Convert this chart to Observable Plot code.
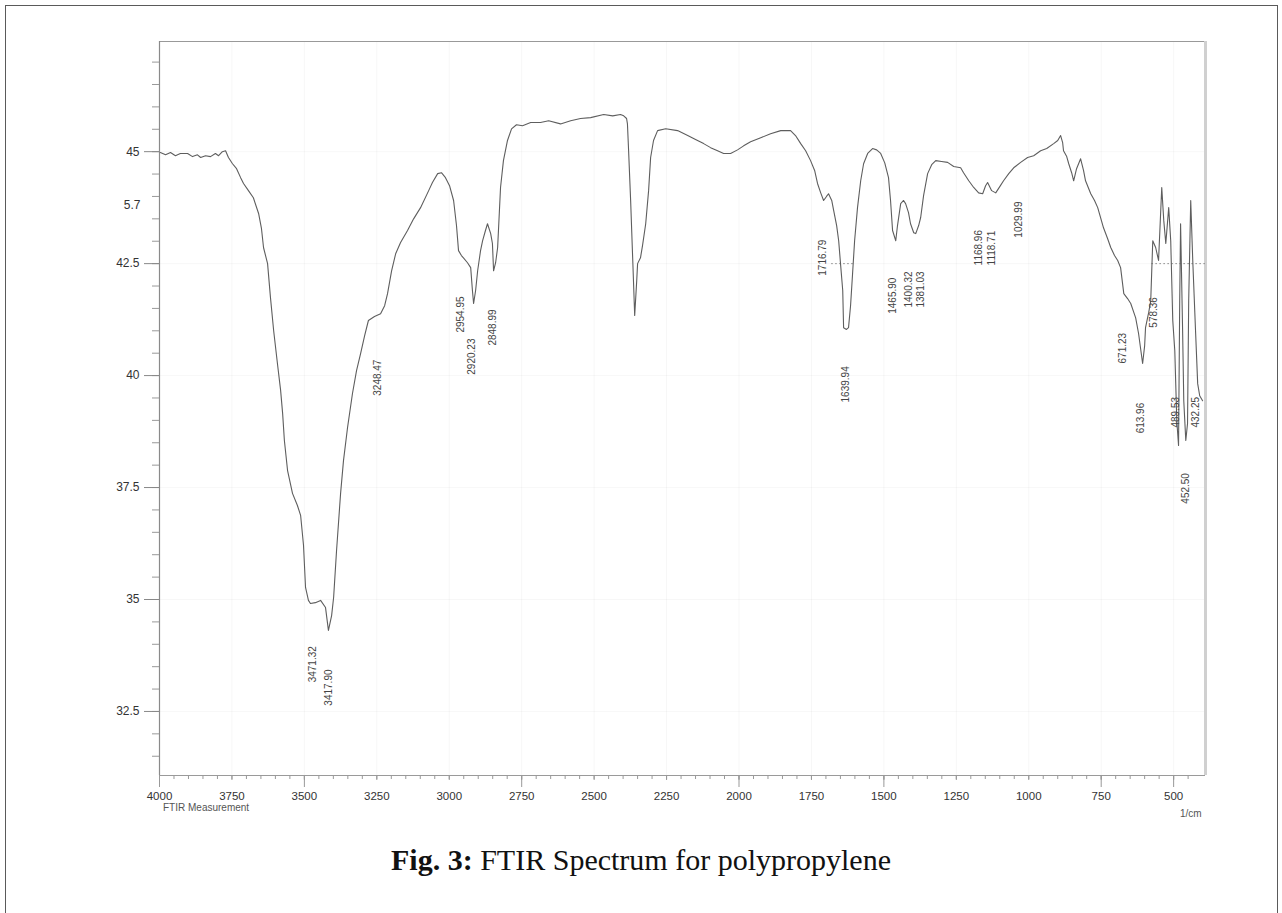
<!DOCTYPE html>
<html>
<head>
<meta charset="utf-8">
<script src="https://cdn.jsdelivr.net/npm/d3@7"></script>
<script src="https://cdn.jsdelivr.net/npm/@observablehq/plot@0.6"></script>
<style>
  html, body { margin: 0; padding: 0; background: #fff; }
  body { width: 1282px; height: 913px; position: relative; overflow: hidden; }
  #chart { position: absolute; left: 0; top: 0; }
  #border { position: absolute; left: 5px; top: 5px; width: 1273px; height: 1000px;
            border: 1.5px solid #5a5a5a; border-bottom: none; box-sizing: border-box; pointer-events: none; }
  .small { position: absolute; font-family: "Liberation Sans", Arial, sans-serif; font-size: 10px; color: #555; white-space: nowrap; }
  #meas { left: 163px; top: 802px; }
  #unit { left: 1180px; top: 808px; }
  #caption { position: absolute; left: 0; width: 1282px; top: 845px; text-align: center;
             font-family: "Liberation Serif", "Times New Roman", serif; font-size: 30px; line-height: 30px; color: #111; }
</style>
</head>
<body>
<div id="chart"></div>
<div id="meas" class="small">FTIR Measurement</div>
<div id="unit" class="small">1/cm</div>
<div id="caption"><b>Fig. 3:</b> FTIR Spectrum for polypropylene</div>
<div id="border"></div>
<script>
// Wavenumber (1/cm)
const wavenumber = [
  3997,3979,3962,3945,3928,3903,3886,3869,3858,3841,
  3824,3807,3796,3783,3772,3762,3748,3734,3720,3710,
  3693,3676,3658,3648,3641,3627,3617,3606,3593,3582,
  3575,3569,3558,3541,3524,3513,3503,3496,3486,3479,
  3462,3444,3427,3417,3406,3399,3389,3375,3365,3351,
  3334,3320,3306,3292,3279,3258,3237,3223,3213,3199,
  3185,3168,3144,3123,3099,3071,3058,3040,3027,3013,
  2999,2985,2975,2968,2958,2951,2937,2926,2920,2916,
  2909,2902,2892,2885,2875,2868,2857,2851,2847,2840,
  2833,2823,2813,2799,2785,2768,2747,2719,2685,2657,
  2616,2581,2547,2512,2467,2436,2409,2398,2388,2385,
  2381,2374,2367,2360,2353,2350,2340,2333,2322,2312,
  2305,2295,2281,2253,2212,2177,2150,2122,2098,2074,
  2053,2029,2005,1984,1960,1925,1891,1856,1822,1805,
  1787,1770,1753,1739,1729,1718,1708,1698,1691,1680,
  1673,1663,1656,1649,1642,1639,1629,1622,1615,1608,
  1601,1591,1580,1570,1556,1539,1525,1511,1497,1484,
  1477,1470,1459,1453,1442,1432,1425,1415,1408,1397,
  1390,1380,1373,1363,1349,1335,1321,1301,1280,1259,
  1235,1225,1207,1190,1173,1159,1149,1142,1128,1114,
  1100,1087,1069,1052,1028,1004,983,959,938,914,
  900,890,883,880,869,862,852,845,835,821,
  811,804,786,773,762,742,728,717,704,693,
  683,672,659,648,631,621,607,600,597,586,
  579,572,562,552,541,534,527,517,510,503,
  496,489,483,479,476,469,465,458,452,448,
  441,434,424,417,410,400
];
// Transmittance
const transmittance = [
  44.98,44.93,44.98,44.91,44.96,44.96,44.89,44.93,44.87,44.91,
  44.89,44.96,44.91,45.00,45.02,44.87,44.73,44.62,44.42,44.29,
  44.13,43.97,43.62,43.28,42.86,42.50,41.74,41.00,40.27,39.67,
  39.15,38.55,37.88,37.37,37.10,36.88,36.21,35.27,34.98,34.91,
  34.93,34.98,34.82,34.31,34.64,35.05,36.09,37.37,38.10,38.84,
  39.60,40.11,40.49,40.89,41.23,41.32,41.38,41.56,41.83,42.34,
  42.72,42.97,43.24,43.50,43.75,44.13,44.31,44.51,44.53,44.42,
  44.24,43.91,43.35,42.79,42.68,42.63,42.52,42.41,41.90,41.61,
  41.90,42.34,42.79,43.01,43.24,43.39,43.17,42.95,42.34,42.52,
  42.86,44.20,44.80,45.25,45.51,45.60,45.58,45.65,45.65,45.69,
  45.62,45.69,45.74,45.76,45.83,45.80,45.83,45.80,45.74,45.62,
  45.02,43.91,42.63,41.34,42.12,42.50,42.63,42.90,43.39,44.13,
  44.87,45.25,45.47,45.51,45.47,45.36,45.27,45.18,45.09,45.02,
  44.96,44.96,45.04,45.13,45.22,45.31,45.40,45.47,45.47,45.36,
  45.18,45.02,44.80,44.58,44.29,44.08,43.91,44.00,44.06,43.91,
  43.68,43.35,43.01,42.45,41.90,41.07,41.03,41.07,41.56,42.28,
  43.01,43.75,44.35,44.73,44.96,45.07,45.04,44.96,44.75,44.42,
  43.91,43.24,43.01,43.35,43.84,43.91,43.84,43.64,43.39,43.19,
  43.17,43.35,43.53,44.02,44.51,44.71,44.80,44.78,44.76,44.67,
  44.64,44.53,44.35,44.20,44.08,44.06,44.24,44.31,44.13,44.08,
  44.22,44.35,44.51,44.64,44.76,44.87,44.91,45.02,45.07,45.18,
  45.25,45.36,45.20,45.02,44.89,44.73,44.53,44.35,44.62,44.84,
  44.58,44.35,44.06,43.91,43.75,43.30,43.06,42.86,42.68,42.57,
  42.41,41.83,41.72,41.61,41.29,40.94,40.27,40.67,41.07,41.41,
  41.67,43.01,42.86,42.57,44.20,43.46,42.95,43.75,43.01,41.23,
  40.56,38.98,38.44,41.67,43.39,41.00,39.44,38.55,38.93,41.67,
  43.91,42.57,40.94,39.82,39.55,39.44
];

// Peak annotations (text, position on the wavenumber axis, transmittance at the label's lower end)
const peakText = ["3471.32","3417.90","3248.47","2954.95","2920.23","2848.99","1716.79","1639.94","1465.90","1400.32","1381.03","1168.96","1118.71","1029.99","671.23","578.36","613.96","489.53","432.25","452.50"];
const peakPos  = [3472,3417,3247,2961,2922,2850,1711,1632,1470,1415,1373,1173,1128,1035,676,569,614,493,424,459];
const peakBase = [33.15,32.63,39.55,40.96,40.02,40.67,42.23,39.40,41.38,41.52,41.52,42.46,42.46,43.08,40.27,41.07,38.71,38.84,38.84,37.14];

// Threshold dotted segments
const thresholdFrom = [1680, 575];
const thresholdTo   = [1600, 390];
const thresholdLevel = 42.5;

// Axis ticks
const xLabelTicks = [4000,3750,3500,3250,3000,2750,2500,2250,2000,1750,1500,1250,1000,750,500];
const xLongTicks  = [4000,3500,2750,2000,1500,750,500];
const yLabelTicks = [45,42.5,40,37.5,35,32.5];
const yLabelText  = ["45","42.5","40","37.5","35","32.5"];
const yExtraTick  = [43.8];
const yExtraText  = ["5.7"];

const xDomain = [4000, 390];
const yDomain = [31.07, 47.46];

const spectrum = wavenumber.map((w, i) => ({w, t: transmittance[i]}));
const peaks = peakText.map((label, i) => ({label, w: peakPos[i], t: peakBase[i]}));
const thresholds = thresholdFrom.map((a, i) => ({x1: a, x2: thresholdTo[i], y: thresholdLevel}));
const yLabelMap = new Map(yLabelTicks.map((v, i) => [v, yLabelText[i]]));
const yExtraMap = new Map(yExtraTick.map((v, i) => [v, yExtraText[i]]));

const xMinor = d3.range(450, 4000, 50);
const yMinor = d3.range(31.5, 47.01, 0.5);

const chart = Plot.plot({
  width: 1282,
  height: 830,
  marginLeft: 159,
  marginRight: 77,
  marginTop: 41,
  marginBottom: 55,
  x: {domain: xDomain, label: null},
  y: {domain: yDomain, label: null},
  style: {fontFamily: "'Liberation Sans', Arial, sans-serif", fontSize: "11.5px", background: "transparent", color: "#333", overflow: "visible"},
  marks: [
    Plot.gridX(xLabelTicks, {stroke: "#000", strokeOpacity: 0.035}),
    Plot.gridY(yLabelTicks, {stroke: "#000", strokeOpacity: 0.03}),
    Plot.ruleY([yDomain[1]], {stroke: "#999", strokeWidth: 1.2}),
    Plot.ruleX([xDomain[1]], {stroke: "#d0d0d0", strokeWidth: 3}),
    Plot.ruleX([xDomain[0]], {stroke: "#8a8a8a", strokeWidth: 1.2}),
    Plot.ruleY([yDomain[0]], {stroke: "#9a9a9a", strokeWidth: 1.2}),
    Plot.ruleY(thresholds, {y: "y", x1: "x1", x2: "x2", stroke: "#888", strokeDasharray: "1.5,2.5", strokeWidth: 1}),
    Plot.axisX(xMinor, {tickSize: 4, stroke: "#999", tickFormat: () => ""}),
    Plot.axisX(xLongTicks, {tickSize: 12, stroke: "#999", tickFormat: () => ""}),
    Plot.axisX(xLabelTicks, {tickSize: 5, tickPadding: 11, stroke: "#999", fill: "#333", fontSize: 11.5, tickFormat: d => String(d)}),
    Plot.axisY(yMinor, {tickSize: 7, stroke: "#999", tickFormat: () => ""}),
    Plot.axisY(yLabelTicks, {tickSize: 15, tickPadding: 5, stroke: "#888", fill: "#333", fontSize: 12, tickFormat: d => yLabelMap.get(d)}),
    Plot.axisY(yExtraTick, {tickSize: 0, tickPadding: 19, fill: "#333", fontSize: 12, tickFormat: d => yExtraMap.get(d)}),
    Plot.line(spectrum, {x: "w", y: "t", stroke: "#5e5e5e", strokeWidth: 1.1, curve: "linear"}),
    Plot.text(peaks, {x: "w", y: "t", text: "label", rotate: -90, textAnchor: "start", fontSize: 10, fill: "#444"})
  ]
});
document.getElementById("chart").appendChild(chart);
</script>
</body>
</html>
